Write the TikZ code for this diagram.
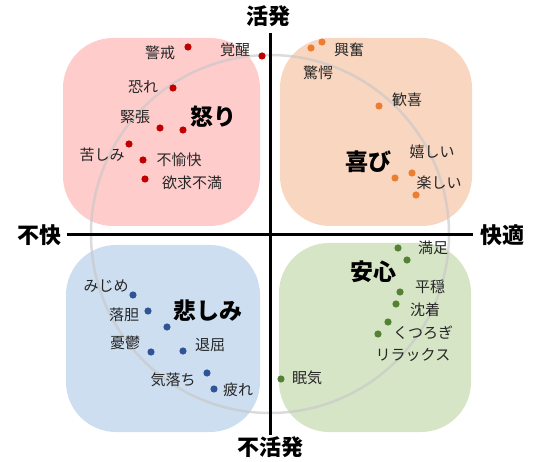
\documentclass[tikz,border=0pt]{standalone}
\usepackage{fontspec}
\newfontfamily\jp{Noto Sans CJK JP}
\definecolor{pinkbox}{RGB}{255,204,204}
\definecolor{orangebox}{RGB}{248,214,192}
\definecolor{bluebox}{RGB}{204,222,240}
\definecolor{greenbox}{RGB}{214,229,198}
\definecolor{reddot}{RGB}{192,0,0}
\definecolor{orangedot}{RGB}{237,125,49}
\definecolor{bluedot}{RGB}{47,85,151}
\definecolor{greendot}{RGB}{84,130,53}
\definecolor{ringcol}{RGB}{200,200,200}
\tikzset{
  quad/.style={rounded corners=50pt},
  lbl/.style={font=\jp\fontsize{15}{15}\selectfont, text=black!85, inner sep=0pt},
  cat/.style={font=\jp\bfseries\fontsize{23}{23}\selectfont, text=black, inner sep=0pt},
  axlbl/.style={font=\jp\bfseries\fontsize{22}{22}\selectfont, text=black, inner sep=0pt},
  axisline/.style={line width=3pt, black},
}
\newcommand{\dotat}[3]{\fill[#1] #2 circle (3.6pt) coordinate (#3);}
\begin{document}
\begin{tikzpicture}[x=1pt,y=-1pt]
\useasboundingbox (0,0) rectangle (533,462);
% quadrant boxes
\fill[pinkbox,quad] (63,38) rectangle (260,226);
\fill[orangebox,quad] (280,38) rectangle (472,226);
\fill[bluebox,quad] (66,245) rectangle (260,432);
\fill[greenbox,quad] (279,243) rectangle (471,432);
% ring
\draw[ringcol,line width=2.5pt,opacity=0.65] (270,234) circle (179pt);
% axes
\coordinate (top) at (270,33);
\coordinate (bot) at (270,435);
\coordinate (lft) at (67,235);
\coordinate (rgt) at (473,235);
\draw[axisline] (top) -- (bot);
\draw[axisline] (lft) -- (rgt);
\node[axlbl] (kappatsu) at (268,16) {活発};
\node[axlbl] (fukappatsu) at (270,447) {不活発};
\node[axlbl] (fukai) at (39,235) {不快};
\node[axlbl] (kaiteki) at (502,235) {快適};
% red
\dotat{reddot}{(188,47)}{d1}
\dotat{reddot}{(262,56)}{d2}
\dotat{reddot}{(173,88)}{d3}
\dotat{reddot}{(160,128)}{d4}
\dotat{reddot}{(183,130)}{d5}
\dotat{reddot}{(129,144)}{d6}
\dotat{reddot}{(143,160)}{d7}
\dotat{reddot}{(145,179)}{d8}
\node[lbl] (t1) at (160,53) {警戒};
\node[lbl] (t2) at (235,50) {覚醒};
\node[lbl] (t3) at (143,87) {恐れ};
\node[lbl] (t4) at (135,117) {緊張};
\node[cat] (c1) at (213,117) {怒り};
\node[lbl] (t6) at (102,155) {苦しみ};
\node[lbl] (t7) at (179,160) {不愉快};
\node[lbl] (t8) at (192,183) {欲求不満};
% orange
\dotat{orangedot}{(311,48)}{e1}
\dotat{orangedot}{(322,42)}{e2}
\dotat{orangedot}{(379,106)}{e3}
\dotat{orangedot}{(395,178)}{e4}
\dotat{orangedot}{(412,173)}{e5}
\dotat{orangedot}{(416,195)}{e6}
\node[lbl] (u1) at (318,73) {驚愕};
\node[lbl] (u2) at (349,50) {興奮};
\node[lbl] (u3) at (407,100) {歓喜};
\node[cat] (c2) at (368,162) {喜び};
\node[lbl] (u5) at (432,152) {嬉しい};
\node[lbl] (u6) at (439,183) {楽しい};
% blue
\dotat{bluedot}{(133,295)}{f1}
\dotat{bluedot}{(148,311)}{f2}
\dotat{bluedot}{(167,327)}{f3}
\dotat{bluedot}{(151,352)}{f4}
\dotat{bluedot}{(183,351)}{f5}
\dotat{bluedot}{(207,373)}{f6}
\dotat{bluedot}{(214,389)}{f7}
\node[lbl] (v1) at (106,286) {みじめ};
\node[lbl] (v2) at (124,315) {落胆};
\node[cat] (c3) at (208,311) {悲しみ};
\node[lbl] (v4) at (125,343) {憂鬱};
\node[lbl] (v5) at (210,345) {退屈};
\node[lbl] (v6) at (173,380) {気落ち};
\node[lbl] (v7) at (238,390) {疲れ};
% green
\dotat{greendot}{(398,248)}{g1}
\dotat{greendot}{(407,260)}{g2}
\dotat{greendot}{(400,292)}{g3}
\dotat{greendot}{(396,304)}{g4}
\dotat{greendot}{(388,322)}{g5}
\dotat{greendot}{(378,334)}{g6}
\dotat{greendot}{(281,379)}{g7}
\node[lbl] (w1) at (433,248) {満足};
\node[cat] (c4) at (373,272) {安心};
\node[lbl] (w3) at (430,287) {平穏};
\node[lbl] (w4) at (425,310) {沈着};
\node[lbl] (w5) at (423,333) {くつろぎ};
\node[lbl] (w6) at (413,355) {リラックス};
\node[lbl] (w7) at (307,378) {眠気};
\end{tikzpicture}
\end{document}
